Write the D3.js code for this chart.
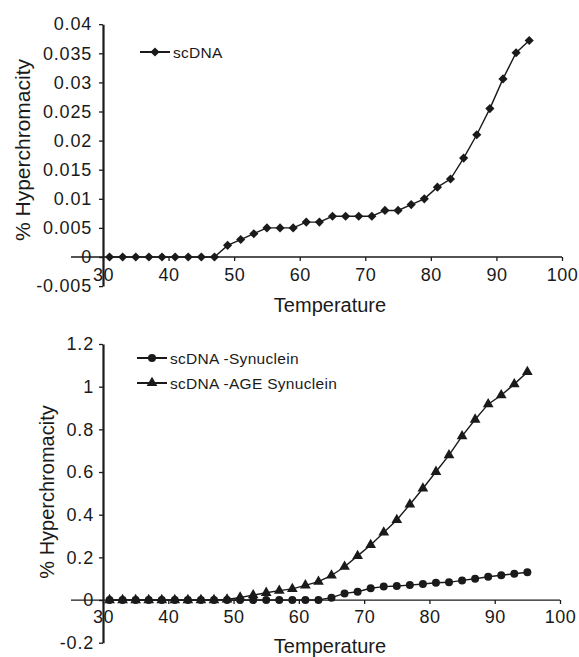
<!DOCTYPE html>
<html>
<head>
<meta charset="utf-8">
<script src="https://cdn.jsdelivr.net/npm/d3@7"></script>
<style>
  body { margin: 0; background: #fff; }
  svg text { font-family: "Liberation Sans", Arial, sans-serif; fill: #1a1a1a; }
</style>
</head>
<body>
<div id="chart"></div>
<script>
// Temperatures (both panels)
const temps = [31, 33, 35, 37, 39, 41, 43, 45, 47, 49, 51, 53, 55, 57, 59, 61, 63,
    65, 67, 69, 71, 73, 75, 77, 79, 81, 83, 85, 87, 89, 91, 93, 95];

// Top panel: scDNA
const scDNA = [0, 0, 0, 0, 0, 0, 0, 0, 0, 0.002, 0.003, 0.004, 0.005, 0.005, 0.005, 0.006, 0.006,
    0.007, 0.007, 0.007, 0.007, 0.008, 0.008, 0.009, 0.010, 0.012, 0.0134, 0.017, 0.021, 0.0255, 0.0306, 0.0351, 0.0372];

// Bottom panel
const synuclein = [0, 0, 0, 0, 0, 0, 0, 0, 0, 0, 0, 0, 0, 0, 0, 0, 0,
    0.011, 0.031, 0.039, 0.055, 0.063, 0.066, 0.07, 0.075, 0.081, 0.083, 0.092, 0.1, 0.109, 0.116, 0.123, 0.13];
const ageSynuclein = [0, 0, 0, 0, 0, 0, 0, 0, 0, 0.003, 0.012, 0.023, 0.034, 0.044, 0.052, 0.069, 0.086,
    0.115, 0.156, 0.207, 0.258, 0.317, 0.375, 0.448, 0.523, 0.601, 0.679, 0.768, 0.846, 0.918, 0.96, 1.012, 1.069];

const xTicks = [30, 40, 50, 60, 70, 80, 90, 100];
const yTicksTop = [-0.005, 0, 0.005, 0.01, 0.015, 0.02, 0.025, 0.03, 0.035, 0.04];
const yTicksBottom = [-0.2, 0, 0.2, 0.4, 0.6, 0.8, 1, 1.2];

const svg = d3.select("#chart")
    .append("svg")
    .attr("width", 579)
    .attr("height", 657);

const ink = "#1a1a1a";
const fmt = d => d === 0 ? "0" : String(+d.toFixed(3));

// marker drawing: square diamond = rotated square
function marker(sel, s) {
    const rot = s.rotate ? " rotate(45)" : "";
    sel.attr("d", d3.symbol().type(s.symbol).size(s.size))
        .attr("fill", ink)
        .attr("transform", function() { return d3.select(this).attr("transform") + rot; });
}

function panel(opts) {
    const x = d3.scaleLinear().domain([30, 100]).range(opts.xRange);
    const y = d3.scaleLinear().domain(opts.yDomain).range(opts.yRange);
    const g = svg.append("g");

    // x axis line crosses at zero, extends left past the y axis
    g.append("line")
        .attr("x1", opts.xLineStart).attr("x2", x(100))
        .attr("y1", y(0)).attr("y2", y(0))
        .attr("stroke", ink).attr("stroke-width", 1.3);

    const xAxis = g.append("g")
        .attr("transform", `translate(0,${y(0)})`)
        .call(d3.axisBottom(x).tickValues(xTicks).tickSize(4).tickPadding(opts.xPad).tickSizeOuter(0));
    xAxis.select(".domain").remove();
    xAxis.selectAll("line").attr("stroke", ink).attr("stroke-width", 1.3);
    xAxis.selectAll("text").attr("font-size", 18).attr("letter-spacing", 0.5)
        .style("font-family", "Liberation Sans, Arial, sans-serif").attr("fill", ink);

    const yAxis = g.append("g")
        .attr("transform", `translate(${x(30)},0)`)
        .call(d3.axisLeft(y).tickValues(opts.yTicks).tickFormat(fmt).tickSize(4).tickPadding(opts.yPad).tickSizeOuter(0));
    yAxis.select(".domain").attr("stroke", ink).attr("stroke-width", 2.2);
    yAxis.selectAll("line").attr("stroke", ink).attr("stroke-width", 1.3);
    yAxis.selectAll("text").attr("font-size", 18).attr("letter-spacing", 0.8)
        .style("font-family", "Liberation Sans, Arial, sans-serif").attr("fill", ink);

    // series
    opts.series.forEach(s => {
        const pts = temps.map((t, i) => [t, s.values[i]]);
        g.append("path")
            .datum(pts)
            .attr("fill", "none")
            .attr("stroke", ink)
            .attr("stroke-width", 1.4)
            .attr("d", d3.line().x(d => x(d[0])).y(d => y(d[1])));
        g.selectAll(null)
            .data(pts)
            .enter()
            .append("path")
            .attr("transform", d => `translate(${x(d[0])},${y(d[1])})`)
            .call(marker, s);
    });

    // legend
    opts.series.forEach((s, i) => {
        const ly = opts.legendY + i * 25;
        g.append("line")
            .attr("x1", opts.legendX).attr("x2", opts.legendX + 30)
            .attr("y1", ly).attr("y2", ly)
            .attr("stroke", ink).attr("stroke-width", 2);
        g.append("path")
            .attr("transform", `translate(${opts.legendX + 15},${ly})`)
            .call(marker, s);
        g.append("text")
            .attr("x", opts.legendX + 33)
            .attr("y", ly + 5.5)
            .attr("font-size", 15.5)
            .attr("letter-spacing", 0.3)
            .text(s.name);
    });

    // axis titles
    g.append("text")
        .attr("x", 330).attr("y", opts.xTitleY)
        .attr("text-anchor", "middle")
        .attr("font-size", 20)
        .text("Temperature");
    g.append("text")
        .attr("transform", `translate(${opts.yTitleX},${opts.yTitleY}) rotate(-90)`)
        .attr("text-anchor", "middle")
        .attr("font-size", opts.yTitleSize)
        .text("% Hyperchromacity");
}

panel({
    xRange: [103, 562],
    yDomain: [-0.005, 0.04],
    yRange: [286.1, 24.2],
    yTicks: yTicksTop,
    xLineStart: 71,
    xPad: 7,
    yPad: 7,
    series: [{ name: "scDNA", values: scDNA, symbol: d3.symbolSquare, size: 42, rotate: true }],
    legendX: 140,
    legendY: 52,
    xTitleY: 312,
    yTitleX: 30,
    yTitleY: 150,
    yTitleSize: 21
});

panel({
    xRange: [103, 560],
    yDomain: [-0.2, 1.2],
    yRange: [642.7, 344],
    yTicks: yTicksBottom,
    xLineStart: 71,
    xPad: 6,
    yPad: 5,
    series: [
        { name: "scDNA -Synuclein", values: synuclein, symbol: d3.symbolCircle, size: 50 },
        { name: "scDNA -AGE Synuclein", values: ageSynuclein, symbol: d3.symbolTriangle, size: 50 }
    ],
    legendX: 137,
    legendY: 358,
    xTitleY: 653,
    yTitleX: 54,
    yTitleY: 492,
    yTitleSize: 20
});
</script>
</body>
</html>
